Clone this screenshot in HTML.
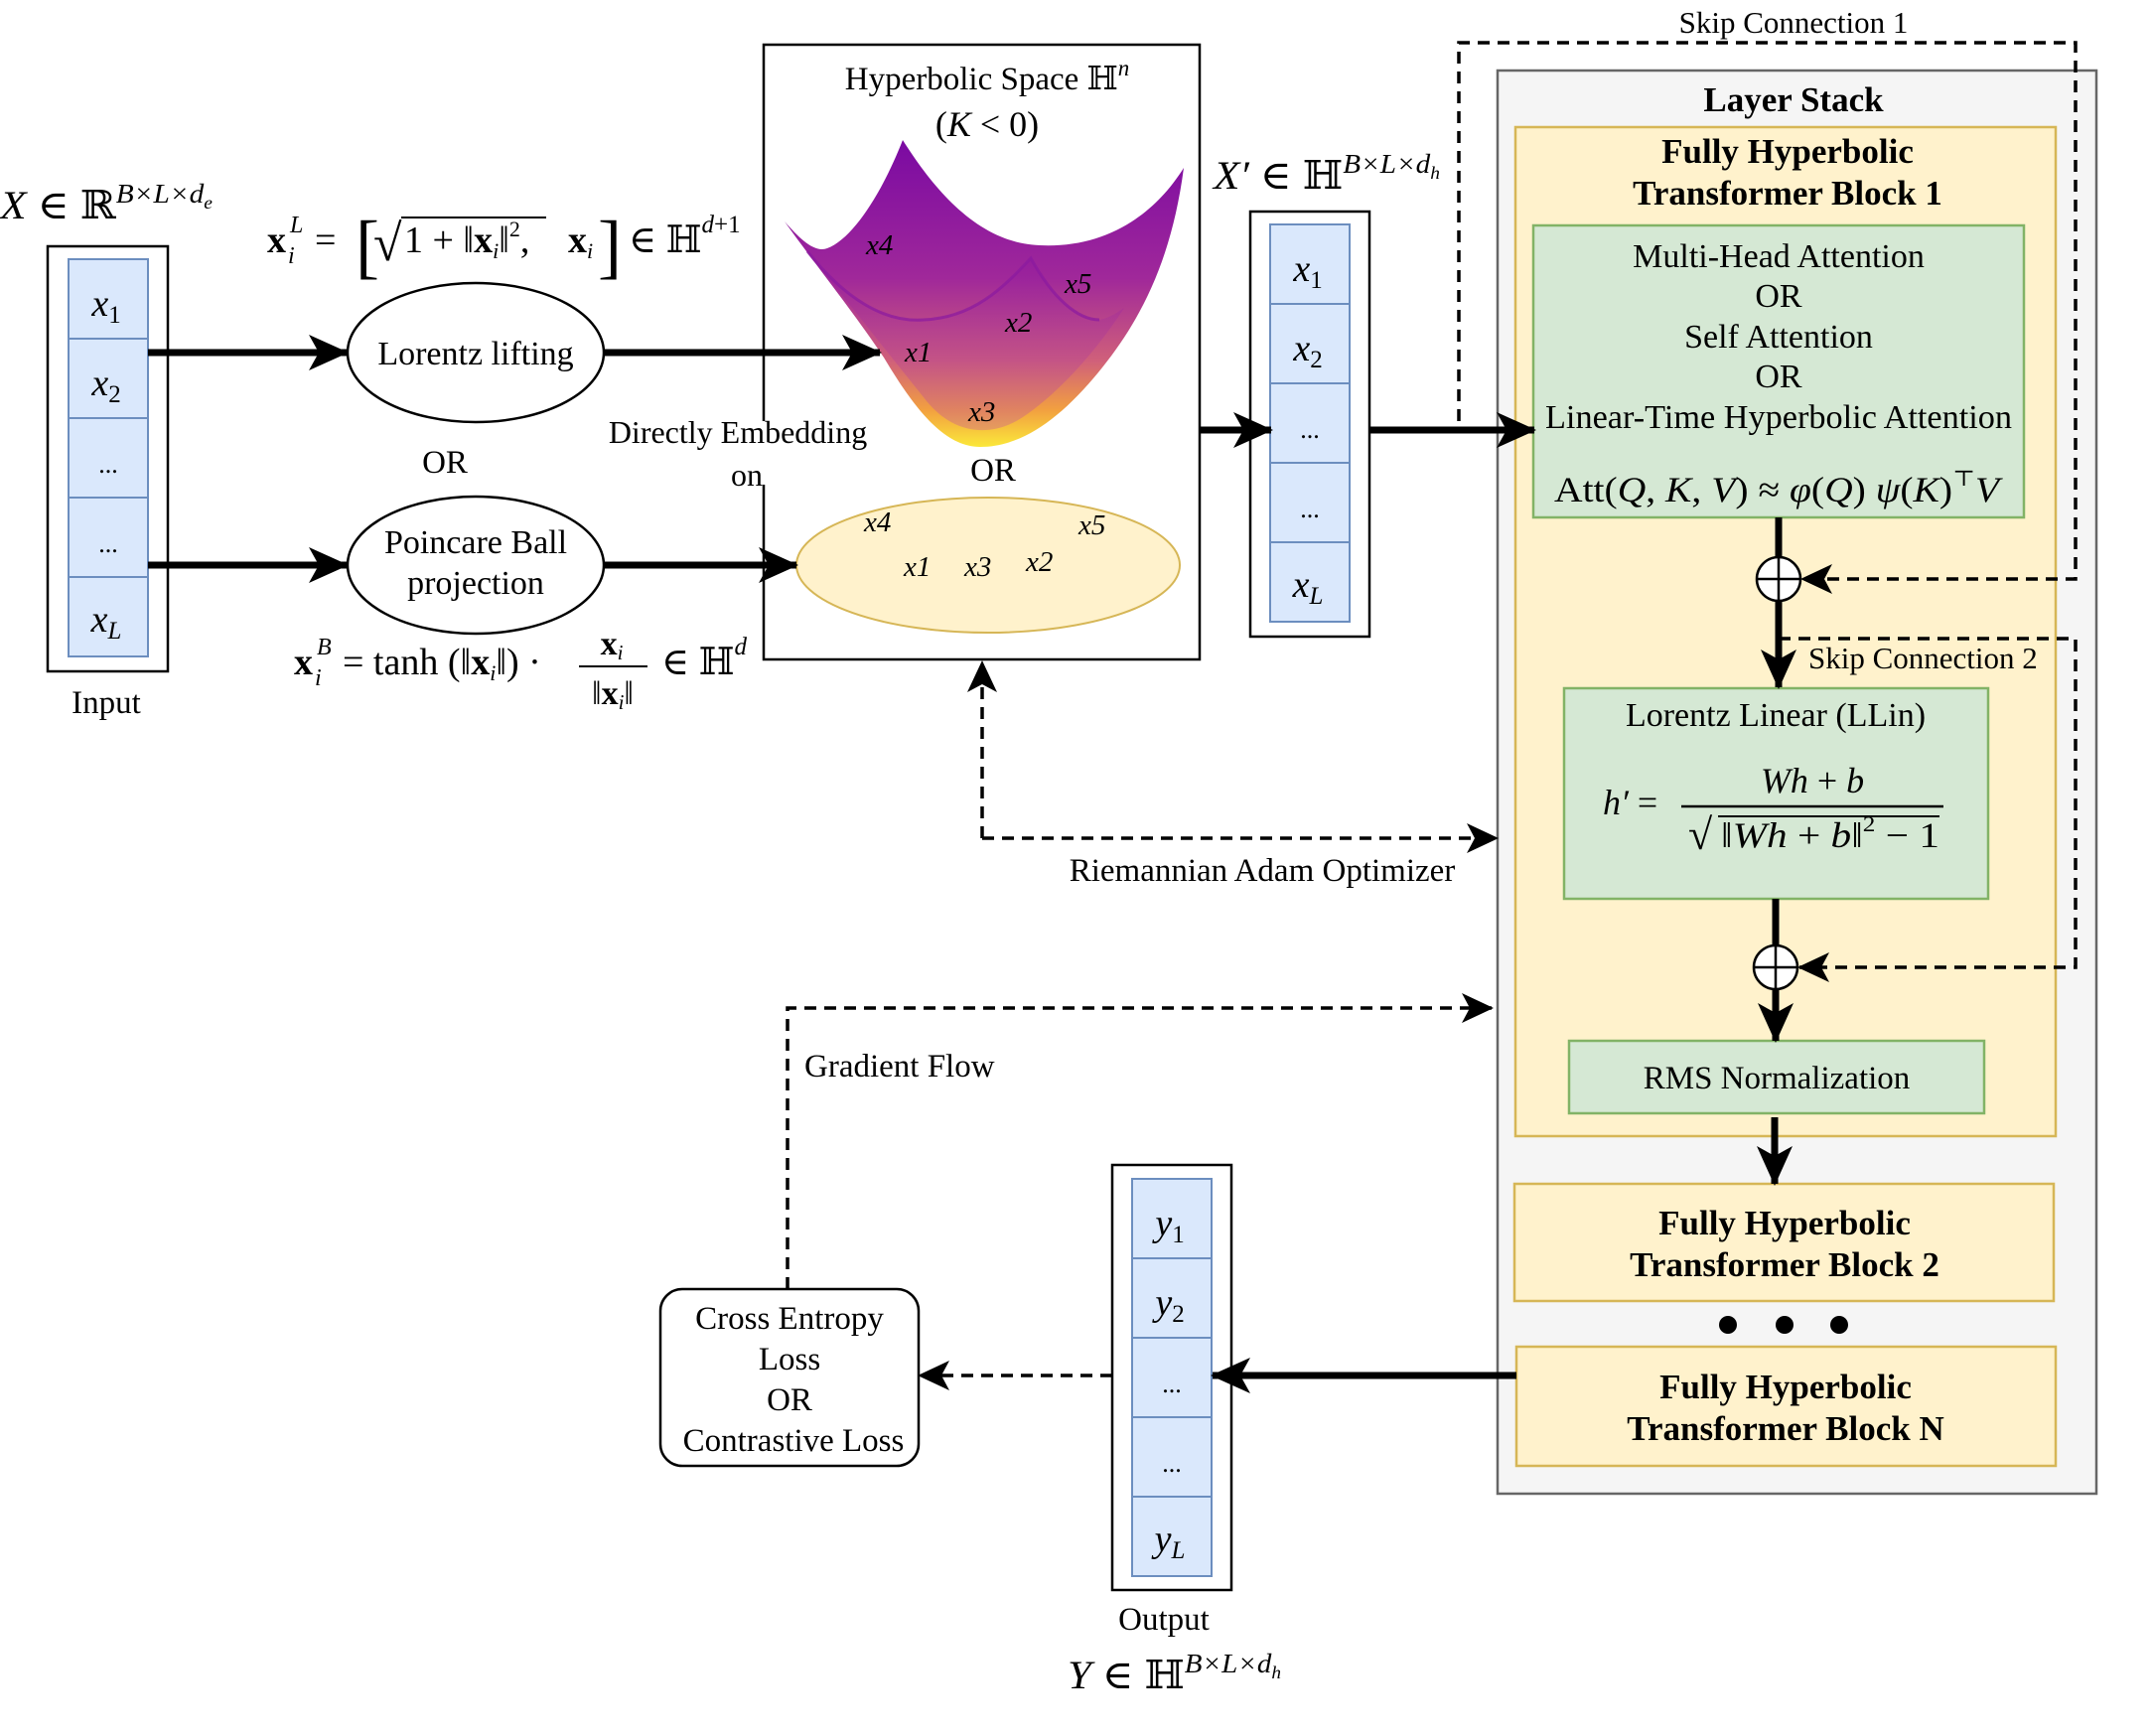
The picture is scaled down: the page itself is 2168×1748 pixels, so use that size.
<!DOCTYPE html>
<html><head><meta charset="utf-8"><style>
html,body{margin:0;padding:0;background:#fff;}
svg{display:block;}
text{font-family:"Liberation Serif","DejaVu Serif",serif;fill:#000;}
.i{font-style:italic;}
.b{font-weight:bold;}
</style></head><body>
<svg width="2168" height="1748" viewBox="0 0 2168 1748" xmlns="http://www.w3.org/2000/svg">
<defs>
<marker id="ah" viewBox="0 0 40 36" refX="38" refY="18" markerWidth="40" markerHeight="36" markerUnits="userSpaceOnUse" orient="auto">
<path d="M0,0 L40,18 L0,36 L10,18 Z" fill="#000"/></marker>
<marker id="ad" viewBox="0 0 32 30" refX="30" refY="15" markerWidth="32" markerHeight="30" markerUnits="userSpaceOnUse" orient="auto">
<path d="M0,0 L32,15 L0,30 L8,15 Z" fill="#000"/></marker>
<linearGradient id="sg" x1="0" y1="0" x2="0" y2="1">
<stop offset="0" stop-color="#7a0aa2"/>
<stop offset="0.45" stop-color="#a0289a"/>
<stop offset="0.72" stop-color="#d0607a"/>
<stop offset="0.88" stop-color="#f2a040"/>
<stop offset="1" stop-color="#fbe83a"/>
</linearGradient>
<linearGradient id="sg2" x1="0" y1="0" x2="0" y2="1">
<stop offset="0" stop-color="#8a12a2"/>
<stop offset="1" stop-color="#cc6090"/>
</linearGradient>
</defs>

<!-- Input stack -->
<rect x="48" y="248" width="121" height="428" fill="#fff" stroke="#000" stroke-width="2.5"/>
<g fill="#dae8fc" stroke="#6c8ebf" stroke-width="2">
<rect x="69" y="261" width="80" height="80"/><rect x="69" y="341" width="80" height="80"/>
<rect x="69" y="421" width="80" height="80"/><rect x="69" y="501" width="80" height="80"/>
<rect x="69" y="581" width="80" height="80"/></g>
<g font-size="38" text-anchor="middle">
<text x="107" y="318" class="i">x<tspan font-size="25" font-style="normal" dy="7">1</tspan></text>
<text x="107" y="398" class="i">x<tspan font-size="25" font-style="normal" dy="7">2</tspan></text>
<text x="109" y="476" font-size="26">...</text>
<text x="109" y="556" font-size="26">...</text>
<text x="107" y="636" class="i">x<tspan font-size="25" dy="7">L</tspan></text>
</g>
<text x="107" y="718" font-size="33" text-anchor="middle">Input</text>
<text x="0" y="220" font-size="40" class="i" textLength="214" lengthAdjust="spacingAndGlyphs">X <tspan font-style="normal">∈ ℝ</tspan><tspan font-size="27" dy="-16">B×L×d</tspan><tspan font-size="18" dy="6">e</tspan></text>

<!-- top formula -->
<g font-size="38">
<text x="269" y="254" class="b">x</text>
<text x="292" y="234" font-size="24" class="i">L</text>
<text x="290" y="265" font-size="24" class="i">i</text>
<text x="317" y="254">=</text>
<text x="358" y="272" font-size="72" font-weight="100">[</text>
<text x="376" y="262" font-size="52">√</text>
<line x1="404" y1="219" x2="550" y2="219" stroke="#000" stroke-width="2"/>
<text x="407" y="254">1 + ‖<tspan class="b">x</tspan><tspan font-size="22" class="i" dy="6">i</tspan><tspan dy="-6">‖</tspan><tspan font-size="22" dy="-16">2</tspan><tspan dy="16">,</tspan></text>
<text x="572" y="254" class="b">x<tspan font-size="22" class="i" font-weight="normal" dy="6">i</tspan></text>
<text x="602" y="272" font-size="72" font-weight="100">]</text>
<text x="633" y="254">∈ ℍ<tspan font-size="25" class="i" dy="-20">d</tspan><tspan font-size="25">+1</tspan></text>
</g>

<!-- bottom formula -->
<g font-size="38">
<text x="296" y="679" class="b">x</text>
<text x="319" y="659" font-size="24" class="i">B</text>
<text x="317" y="690" font-size="24" class="i">i</text>
<text x="345" y="679">= tanh (‖<tspan class="b">x</tspan><tspan font-size="22" class="i" dy="6">i</tspan><tspan dy="-6">‖) ·</tspan></text>
<text x="616" y="659" font-size="34" text-anchor="middle"><tspan class="b">x</tspan><tspan font-size="21" class="i" dy="5">i</tspan></text>
<line x1="583" y1="671" x2="652" y2="671" stroke="#000" stroke-width="2"/>
<text x="617" y="709" font-size="34" text-anchor="middle">‖<tspan class="b">x</tspan><tspan font-size="21" class="i" dy="5">i</tspan><tspan dy="-5">‖</tspan></text>
<text x="666" y="679">∈ ℍ<tspan font-size="25" class="i" dy="-20">d</tspan></text>
</g>

<!-- ellipses -->
<ellipse cx="479" cy="355" rx="129" ry="70" fill="#fff" stroke="#000" stroke-width="2.5"/>
<text x="479" y="367" font-size="34" text-anchor="middle">Lorentz lifting</text>
<text x="448" y="476" font-size="33" text-anchor="middle">OR</text>
<ellipse cx="479" cy="569" rx="129" ry="69" fill="#fff" stroke="#000" stroke-width="2.5"/>
<text x="479" y="557" font-size="34" text-anchor="middle">Poincare Ball</text>
<text x="479" y="598" font-size="34" text-anchor="middle">projection</text>

<!-- Hyperbolic box -->
<rect x="769" y="45" width="439" height="619" fill="#fff" stroke="#000" stroke-width="2.5"/>
<rect x="760" y="424" width="20" height="64" fill="#fff"/>
<text x="994" y="90" font-size="33" text-anchor="middle">Hyperbolic Space  ℍ<tspan class="i" font-size="23" dy="-14">n</tspan></text>
<text x="994" y="137" font-size="36" text-anchor="middle">(<tspan class="i">K</tspan> &lt; 0)</text>
<path d="M790,223 C805,240 820,255 833,250 C860,240 890,190 909,141 C940,190 985,245 1047,247 C1110,250 1160,220 1192,169 C1180,260 1150,320 1110,370 C1070,420 1030,450 987,450 C950,450 920,410 890,360 C860,315 820,265 790,223 Z" fill="url(#sg)"/>
<path d="M813,253 C850,300 890,325 930,322 C980,320 1010,290 1038,260 C1060,300 1085,322 1107,322 C1118,320 1126,314 1132,310 C1100,360 1060,400 1030,420 C1000,440 960,440 930,400 C890,350 850,300 813,253 Z" fill="url(#sg2)" opacity="0.4"/>
<path d="M813,253 C850,300 890,325 930,322 C980,320 1010,290 1038,260 C1060,300 1085,322 1107,322" fill="none" stroke="#8a1aa0" stroke-width="3" opacity="0.7"/>
<g font-size="29" class="i">
<text x="872" y="256">x4</text><text x="1072" y="295">x5</text>
<text x="1012" y="334">x2</text><text x="911" y="364">x1</text><text x="975" y="424">x3</text>
</g>
<text x="743" y="446" font-size="32" text-anchor="middle">Directly Embedding</text>
<text x="752" y="489" font-size="32" text-anchor="middle">on</text>
<text x="1000" y="484" font-size="33" text-anchor="middle">OR</text>
<ellipse cx="995" cy="569" rx="193" ry="68" fill="#fff2cc" stroke="#d6b656" stroke-width="2"/>
<g font-size="29" class="i">
<text x="870" y="535">x4</text><text x="1086" y="538">x5</text>
<text x="910" y="580">x1</text><text x="971" y="580">x3</text><text x="1033" y="575">x2</text>
</g>

<!-- X' stack -->
<text x="1222" y="190" font-size="40" class="i" textLength="228" lengthAdjust="spacingAndGlyphs">X′ <tspan font-style="normal">∈ ℍ</tspan><tspan font-size="27" dy="-16">B×L×d</tspan><tspan font-size="18" dy="6">h</tspan></text>
<rect x="1259" y="213" width="120" height="428" fill="#fff" stroke="#000" stroke-width="2.5"/>
<g fill="#dae8fc" stroke="#6c8ebf" stroke-width="2">
<rect x="1279" y="226" width="80" height="80"/><rect x="1279" y="306" width="80" height="80"/>
<rect x="1279" y="386" width="80" height="80"/><rect x="1279" y="466" width="80" height="80"/>
<rect x="1279" y="546" width="80" height="80"/></g>
<g font-size="38" text-anchor="middle">
<text x="1317" y="283" class="i">x<tspan font-size="25" font-style="normal" dy="7">1</tspan></text>
<text x="1317" y="363" class="i">x<tspan font-size="25" font-style="normal" dy="7">2</tspan></text>
<text x="1319" y="441" font-size="26">...</text>
<text x="1319" y="521" font-size="26">...</text>
<text x="1317" y="601" class="i">x<tspan font-size="25" dy="7">L</tspan></text>
</g>

<!-- Layer stack -->
<rect x="1508" y="71" width="603" height="1433" fill="#f5f5f5" stroke="#666" stroke-width="2.5"/>
<text x="1806" y="112" font-size="35" class="b" text-anchor="middle">Layer Stack</text>
<rect x="1526" y="128" width="544" height="1016" fill="#fff2cc" stroke="#d6b656" stroke-width="2.5"/>
<text x="1800" y="164" font-size="35" class="b" text-anchor="middle">Fully Hyperbolic</text>
<text x="1800" y="206" font-size="35" class="b" text-anchor="middle">Transformer Block 1</text>
<rect x="1544" y="227" width="494" height="294" fill="#d5e8d4" stroke="#82b366" stroke-width="2.5"/>
<g font-size="34" text-anchor="middle">
<text x="1791" y="269">Multi-Head Attention</text>
<text x="1791" y="309">OR</text>
<text x="1791" y="350">Self Attention</text>
<text x="1791" y="390">OR</text>
<text x="1791" y="431" textLength="470" lengthAdjust="spacingAndGlyphs">Linear-Time Hyperbolic Attention</text>
</g>
<text x="1565" y="505" font-size="36" textLength="448" lengthAdjust="spacingAndGlyphs">Att(<tspan class="i">Q</tspan>, <tspan class="i">K</tspan>, <tspan class="i">V</tspan>) ≈ <tspan class="i">φ</tspan>(<tspan class="i">Q</tspan>) <tspan class="i">ψ</tspan>(<tspan class="i">K</tspan>)<tspan font-size="22" dy="-16">⊤</tspan><tspan class="i" dy="16">V</tspan></text>

<rect x="1575" y="693" width="427" height="212" fill="#d5e8d4" stroke="#82b366" stroke-width="2.5"/>
<text x="1788" y="731" font-size="34" text-anchor="middle">Lorentz Linear (LLin)</text>
<text x="1614" y="820" font-size="36" class="i">h′ <tspan font-style="normal">=</tspan></text>
<text x="1825" y="798" font-size="36" class="i" text-anchor="middle">Wh <tspan font-style="normal">+</tspan> b</text>
<line x1="1693" y1="812" x2="1957" y2="812" stroke="#000" stroke-width="2.5"/>
<text x="1700" y="855" font-size="44">√</text>
<line x1="1730" y1="822" x2="1953" y2="822" stroke="#000" stroke-width="2"/>
<text x="1733" y="853" font-size="36" textLength="220" lengthAdjust="spacingAndGlyphs">‖<tspan class="i">Wh</tspan> + <tspan class="i">b</tspan>‖<tspan font-size="22" dy="-16">2</tspan><tspan dy="16"> − 1</tspan></text>

<rect x="1580" y="1048" width="418" height="73" fill="#d5e8d4" stroke="#82b366" stroke-width="2.5"/>
<text x="1789" y="1096" font-size="33" text-anchor="middle">RMS Normalization</text>

<rect x="1525" y="1192" width="543" height="118" fill="#fff2cc" stroke="#d6b656" stroke-width="2.5"/>
<text x="1797" y="1243" font-size="35" class="b" text-anchor="middle">Fully Hyperbolic</text>
<text x="1797" y="1285" font-size="35" class="b" text-anchor="middle">Transformer Block 2</text>
<circle cx="1740" cy="1334" r="9"/><circle cx="1797" cy="1334" r="9"/><circle cx="1852" cy="1334" r="9"/>
<rect x="1527" y="1356" width="543" height="120" fill="#fff2cc" stroke="#d6b656" stroke-width="2.5"/>
<text x="1798" y="1408" font-size="35" class="b" text-anchor="middle">Fully Hyperbolic</text>
<text x="1798" y="1450" font-size="35" class="b" text-anchor="middle">Transformer Block N</text>

<!-- plus circles -->
<g stroke="#000" stroke-width="2.5" fill="#fff">
<circle cx="1791" cy="583" r="22"/><line x1="1769" y1="583" x2="1813" y2="583"/><line x1="1791" y1="561" x2="1791" y2="605"/>
<circle cx="1788" cy="974" r="22"/><line x1="1766" y1="974" x2="1810" y2="974"/><line x1="1788" y1="952" x2="1788" y2="996"/>
</g>

<!-- Output stack -->
<rect x="1120" y="1173" width="120" height="428" fill="#fff" stroke="#000" stroke-width="2.5"/>
<g fill="#dae8fc" stroke="#6c8ebf" stroke-width="2">
<rect x="1140" y="1187" width="80" height="80"/><rect x="1140" y="1267" width="80" height="80"/>
<rect x="1140" y="1347" width="80" height="80"/><rect x="1140" y="1427" width="80" height="80"/>
<rect x="1140" y="1507" width="80" height="80"/></g>
<g font-size="38" text-anchor="middle">
<text x="1178" y="1244" class="i">y<tspan font-size="25" font-style="normal" dy="7">1</tspan></text>
<text x="1178" y="1324" class="i">y<tspan font-size="25" font-style="normal" dy="7">2</tspan></text>
<text x="1180" y="1402" font-size="26">...</text>
<text x="1180" y="1482" font-size="26">...</text>
<text x="1178" y="1562" class="i">y<tspan font-size="25" dy="7">L</tspan></text>
</g>
<text x="1172" y="1641" font-size="33" text-anchor="middle">Output</text>
<text x="1075" y="1700" font-size="40" class="i" textLength="215" lengthAdjust="spacingAndGlyphs">Y <tspan font-style="normal">∈ ℍ</tspan><tspan font-size="27" dy="-16">B×L×d</tspan><tspan font-size="18" dy="6">h</tspan></text>

<!-- Loss -->
<rect x="665" y="1298" width="260" height="178" rx="22" fill="#fff" stroke="#000" stroke-width="2.5"/>
<g font-size="33" text-anchor="middle">
<text x="795" y="1338">Cross Entropy</text><text x="795" y="1379">Loss</text>
<text x="795" y="1420">OR</text><text x="799" y="1461">Contrastive Loss</text></g>

<!-- solid arrows -->
<g stroke="#000" stroke-width="7" fill="none" marker-end="url(#ah)">
<line x1="149" y1="355" x2="349" y2="355"/>
<line x1="608" y1="355" x2="886" y2="355"/>
<line x1="149" y1="569" x2="349" y2="569"/>
<line x1="608" y1="569" x2="802" y2="569"/>
<line x1="1208" y1="433" x2="1280" y2="433"/>
<line x1="1379" y1="433" x2="1545" y2="433"/>
<line x1="1791" y1="605" x2="1791" y2="692"/>
<line x1="1788" y1="996" x2="1788" y2="1048"/>
<line x1="1787" y1="1125" x2="1787" y2="1192"/>
<line x1="1527" y1="1385" x2="1221" y2="1385"/>
</g>
<g stroke="#000" stroke-width="7"><line x1="1791" y1="521" x2="1791" y2="561"/><line x1="1788" y1="905" x2="1788" y2="952"/></g>

<!-- dashed -->
<g stroke="#000" stroke-width="3.5" fill="none" stroke-dasharray="12 8">
<polyline points="1469,424 1469,43 2090,43 2090,583 1815,583" marker-end="url(#ad)"/>
<polyline points="1791,643 2090,643 2090,974 1812,974" marker-end="url(#ad)"/>
<polyline points="989,844 989,667" marker-end="url(#ad)"/>
<polyline points="989,844 1507,844" marker-end="url(#ad)"/>
<polyline points="793,1298 793,1015 1502,1015" marker-end="url(#ad)"/>
<polyline points="1120,1385 926,1385" marker-end="url(#ad)"/>
</g>
<text x="1806" y="33" font-size="31" text-anchor="middle">Skip Connection 1</text>
<text x="1821" y="673" font-size="31">Skip Connection 2</text>
<text x="1271" y="887" font-size="33" text-anchor="middle">Riemannian Adam Optimizer</text>
<text x="810" y="1084" font-size="33">Gradient Flow</text>
</svg>
</body></html>
